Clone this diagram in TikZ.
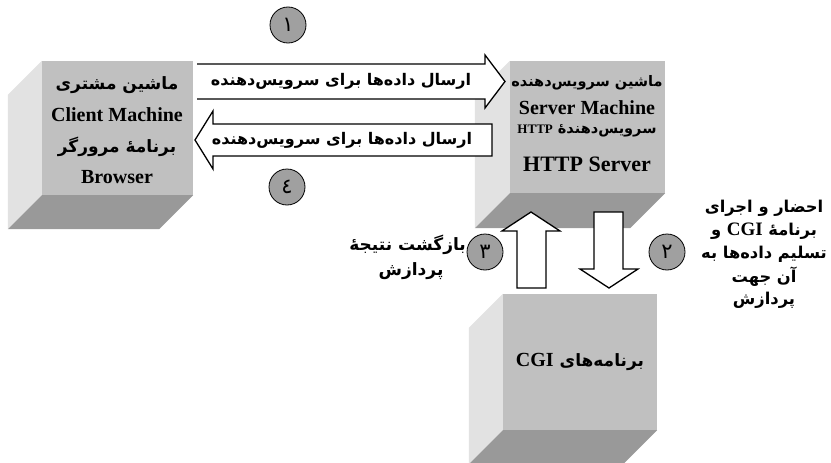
\documentclass[tikz,border=0pt]{standalone}
\usepackage{fontspec}
\setmainfont{Liberation Serif}
\newfontfamily\fa[Script=Arabic]{DejaVu Sans}
\TeXXeTstate=1
\newcommand\RL[1]{\beginR #1\endR}
\newcommand\LR[2]{\beginL{\rmfamily\bfseries\fontsize{#1}{#1}\selectfont #2}\endL{}}
\definecolor{frontc}{HTML}{C0C0C0}
\definecolor{sidec}{HTML}{E2E2E2}
\definecolor{botc}{HTML}{999999}
\definecolor{circc}{HTML}{A0A0A0}
\begin{document}
\begin{tikzpicture}[x=1pt,y=-1pt,
  frontface/.style={fill=frontc, draw=none, inner sep=0pt, rectangle},
  lat/.style={font=\bfseries\fontsize{20}{24}\selectfont, inner sep=0pt},
  latbig/.style={font=\bfseries\fontsize{22}{26}\selectfont, inner sep=0pt},
  per/.style={font=\fa\bfseries\fontsize{17}{20}\selectfont, inner sep=0pt},
  pers/.style={font=\fa\bfseries\fontsize{14.5}{18}\selectfont, inner sep=0pt},
  perr/.style={font=\fa\bfseries\fontsize{16.3}{20}\selectfont, inner sep=0pt},
  pera/.style={font=\fa\bfseries\fontsize{16}{20}\selectfont, inner sep=0pt},
  num/.style={circle, draw=black, line width=0.8pt, fill=circc, minimum size=36pt, inner sep=0pt, font=\fa\fontsize{21}{21}\selectfont},
  blockarrow/.style={draw=black, line width=1.3pt, line join=miter}
]
\useasboundingbox (0,0) rectangle (831,463);

% ---- Client cube
\node[frontface, minimum width=151pt, minimum height=134pt] (client) at (117.5,128) {};
\fill[sidec] (client.north west) -- (client.south west) -- ++(-34,34) -- ([shift={(-34,34)}]client.north west) -- cycle;
\fill[botc] (client.south west) -- (client.south east) -- ++(-34,34) -- ([shift={(-34,34)}]client.south west) -- cycle;
\node[frontface, minimum width=151pt, minimum height=134pt] at (client) {};

% ---- Server cube
\node[frontface, minimum width=155pt, minimum height=132pt] (server) at (587.5,127) {};
\fill[sidec] (server.north west) -- (server.south west) -- ++(-35,35) -- ([shift={(-35,35)}]server.north west) -- cycle;
\fill[botc] (server.south west) -- (server.south east) -- ++(-35,35) -- ([shift={(-35,35)}]server.south west) -- cycle;
\node[frontface, minimum width=155pt, minimum height=132pt] at (server) {};

% ---- CGI cube
\node[frontface, minimum width=154pt, minimum height=136pt] (cgi) at (580,362) {};
\fill[sidec] (cgi.north west) -- (cgi.south west) -- ++(-34,34) -- ([shift={(-34,34)}]cgi.north west) -- cycle;
\fill[botc] (cgi.south west) -- (cgi.south east) -- ++(-34,34) -- ([shift={(-34,34)}]cgi.south west) -- cycle;
\node[frontface, minimum width=154pt, minimum height=136pt] at (cgi) {};

% ---- Box texts
\node[per] (ct1) at (117,85) {\RL{ماشین مشتری}};
\node[lat] (ct2) at (117,115) {Client Machine};
\node[per] (ct3) at (117,147) {\RL{برنامه^^^^0654 مرورگر}};
\node[lat] (ct4) at (117,177) {Browser};

\node[pers] (st1) at (587,83) {\RL{ماشین سرویس^^^^200cدهنده}};
\node[lat] (st2) at (587,108) {Server Machine};
\node[pers] (st3) at (587,131) {\RL{سرویس^^^^200cدهنده^^^^0654 \LR{13}{HTTP}}};
\node[latbig] (st4) at (587,164) {HTTP Server};

\node[per] (gt1) at (580,362) {\RL{برنامه^^^^200cهای \LR{20}{CGI}}};

% ---- Horizontal block arrows
\fill[white] (197,64) -- (485,64) -- (485,55) -- (505,81.5) -- (485,108) -- (485,99) -- (197,99) -- cycle;
\draw[blockarrow] (197,64) -- (485,64) -- (485,55) -- (505,81.5) -- (485,108) -- (485,99) -- (197,99);
\node[pera] (a1) at (341,81) {\RL{ارسال داده^^^^200cها برای سرویس^^^^200cدهنده}};

\draw[blockarrow, fill=white] (492,124) -- (213,124) -- (213,111) -- (195,140) -- (213,169) -- (213,156) -- (492,156) -- cycle;
\node[pera] (a4) at (342,140) {\RL{ارسال داده^^^^200cها برای سرویس^^^^200cدهنده}};

% ---- Vertical block arrows
\draw[blockarrow, fill=white] (517,288) -- (517,231) -- (502,231) -- (531,212) -- (560,231) -- (546,231) -- (546,288) -- cycle;
\draw[blockarrow, fill=white] (594,212) -- (623,212) -- (623,269) -- (638,269) -- (609,288) -- (580,269) -- (594,269) -- cycle;

% ---- Numbered circles
\node[num] (n1) at (288,25) {\RL{١}};
\node[num] (n4) at (287,187) {\RL{٤}};
\node[num] (n3) at (485,252) {\RL{٣}};
\node[num] (n2) at (667,252) {\RL{٢}};

% ---- Side captions
\node[per, anchor=east] (l1) at (466,245) {\RL{بازگشت نتیجه^^^^0654}};
\node[per] (l2) at (411,271) {\RL{پردازش}};

\node[perr] (r1) at (764,208) {\RL{احضار و اجرای}};
\node[perr] (r2) at (764,231) {\RL{برنامه^^^^0654 \LR{19}{CGI} و}};
\node[perr] (r3) at (764,254) {\RL{تسلیم داده^^^^200cها به}};
\node[perr] (r4) at (764,277) {\RL{آن جهت}};
\node[perr] (r5) at (764,300) {\RL{پردازش}};
\end{tikzpicture}
\end{document}
